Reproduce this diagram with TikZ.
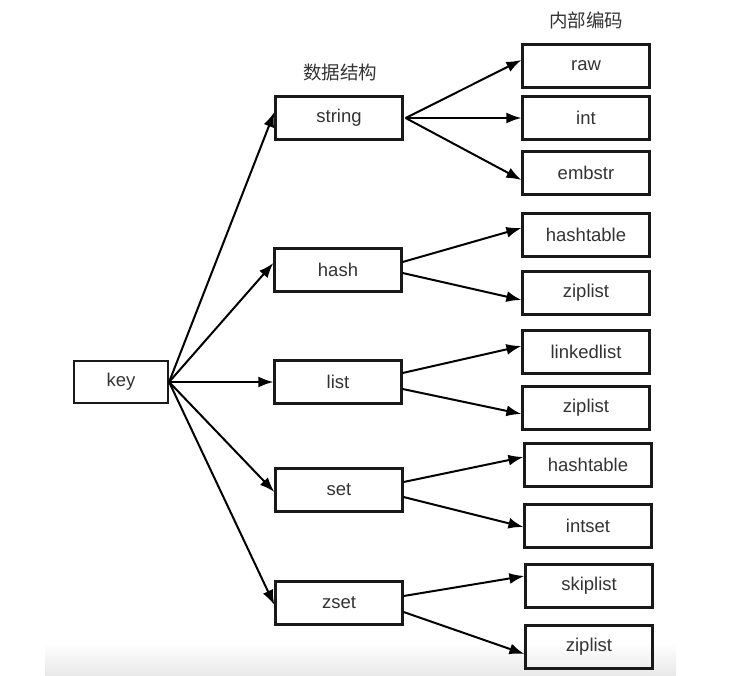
\documentclass[tikz,border=0pt]{standalone}
\usepackage{fontspec}
\setmainfont{Liberation Sans}
\newfontfamily\cjk{Noto Sans CJK SC}
\usetikzlibrary{arrows.meta}
\begin{document}
\begin{tikzpicture}[x=1pt,y=-1pt,
  box/.style={draw=black!90,line width=2.2pt,minimum width=127pt,minimum height=43pt,inner sep=0pt,
    font=\fontsize{18.5}{20}\selectfont,text=black!80},
  keybox/.style={box,minimum width=94pt,minimum height=42pt},
  head/.style={font=\cjk\fontsize{18.5}{20}\selectfont,text=black!80},
  arr/.style={line width=2pt,-{Latex[length=15pt,width=11pt]}}]
\useasboundingbox (0,0) rectangle (746,676);
\shade[top color=white,bottom color=black!9] (45,643) rectangle (676,676);
% labels
\node[head] (h1) at (340,72) {数据结构};
\node[head] (h2) at (586,20) {内部编码};
% key
\node[keybox] (key) at (121,382) {key};
% middle column
\node[box] (string) at (339,118) {string};
\node[box] (hash) at (338,270) {hash};
\node[box] (list) at (338,382) {list};
\node[box] (set) at (339,490) {set};
\node[box] (zset) at (339,603) {zset};
% inner column
\node[box] (raw) at (586,66) {raw};
\node[box] (int) at (586,118) {int};
\node[box] (embstr) at (586,173) {embstr};
\node[box] (ht1) at (586,235) {hashtable};
\node[box] (zl1) at (586,293) {ziplist};
\node[box] (ll) at (586,352) {linkedlist};
\node[box] (zl2) at (586,408) {ziplist};
\node[box] (ht2) at (588,465) {hashtable};
\node[box] (iset) at (588,526) {intset};
\node[box] (skip) at (589,586) {skiplist};
\node[box] (zl3) at (589,647) {ziplist};
% key arrows
\draw[arr] (key.east) -- ([yshift=6pt]string.west);
\draw[arr] (key.east) -- ([yshift=7pt]hash.west);
\draw[arr] (key.east) -- (list.west);
\draw[arr] (key.east) -- ([yshift=-2pt]set.west);
\draw[arr] (key.east) -- ([yshift=-2pt]zset.west);
% string arrows
\draw[arr] ([xshift=2pt]string.east) -- ([yshift=6pt]raw.west);
\draw[arr] ([xshift=2pt]string.east) -- (int.west);
\draw[arr] ([xshift=2pt]string.east) -- ([yshift=-7pt]embstr.west);
% hash
\draw[arr] ([yshift=8pt]hash.east) -- ([yshift=7pt]ht1.west);
\draw[arr] ([yshift=-3pt]hash.east) -- ([yshift=-7pt]zl1.west);
% list
\draw[arr] ([yshift=9pt]list.east) -- ([yshift=6pt]ll.west);
\draw[arr] ([yshift=-7pt]list.east) -- ([yshift=-6pt]zl2.west);
% set
\draw[arr] ([yshift=8pt]set.east) -- ([yshift=8pt]ht2.west);
\draw[arr] ([yshift=-7pt]set.east) -- ([yshift=-1pt]iset.west);
% zset
\draw[arr] ([yshift=7pt]zset.east) -- ([yshift=10pt]skip.west);
\draw[arr] ([yshift=-9pt]zset.east) -- ([yshift=-7pt]zl3.west);
\end{tikzpicture}
\end{document}
